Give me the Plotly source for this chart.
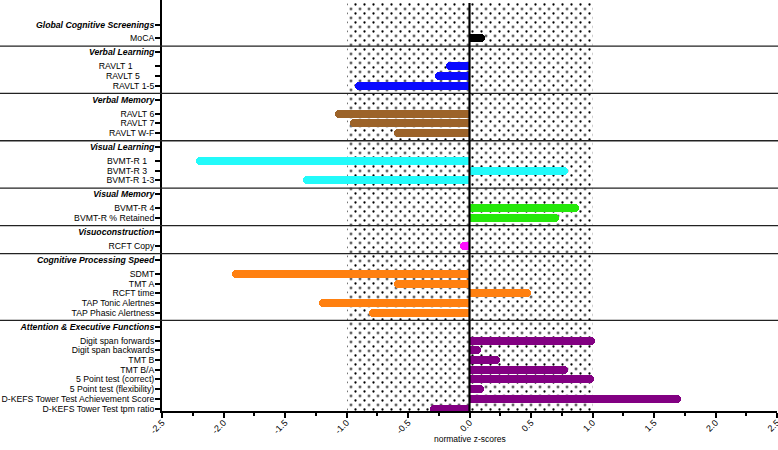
import plotly.graph_objects as go

# ---------------- data ----------------
groups = [
    "Global Cognitive Screenings",
    "Verbal Learning",
    "Verbal Memory",
    "Visual Learning",
    "Visual Memory",
    "Visuoconstruction",
    "Cognitive Processing Speed",
    "Attention & Executive Functions",
]
tests = [
    ["MoCA"],
    ["RAVLT 1", "RAVLT 5", "RAVLT 1-5"],
    ["RAVLT 6", "RAVLT 7", "RAVLT W-F"],
    ["BVMT-R 1", "BVMT-R 3", "BVMT-R 1-3"],
    ["BVMT-R 4", "BVMT-R % Retained"],
    ["RCFT Copy"],
    ["SDMT", "TMT A", "RCFT time", "TAP Tonic Alertnes", "TAP Phasic Alertness"],
    ["Digit span forwards", "Digit span backwards", "TMT B", "TMT B/A",
     "5 Point test (correct)", "5 Point test (flexibility)",
     "D-KEFS Tower Test Achievement Score", "D-KEFS Tower Test tpm ratio"],
]
scores = [
    [0.13],
    [-0.19, -0.28, -0.935],
    [-1.09, -0.97, -0.61],
    [-2.22, 0.80, -1.35],
    [0.89, 0.73],
    [-0.08],
    [-1.93, -0.61, 0.50, -1.22, -0.82],
    [1.02, 0.09, 0.25, 0.80, 1.01, 0.12, 1.72, -0.32],
]
group_colors = ["#000000", "#0a0aff", "#9c6329", "#22fafa", "#25e80a",
                "#ff10ff", "#ff8010", "#820082"]
# extra padding after some labels (as in the original figure)
label_pad = {"RAVLT 1": 9, "RAVLT 5": 6, "BVMT-R 1": 3, "BVMT-R 3": 3}
x_ticks = [-2.5, -2.0, -1.5, -1.0, -0.5, 0.0, 0.5, 1.0, 1.5, 2.0, 2.5]
x_title = "normative z-scores"
norm_band = [-1.0, 1.0]

# ---------------- layout helpers ----------------
W, H = 778, 450
ML, MR, MT, MB = 162, 1, 0, 39
PW = W - ML - MR
PH = H - MT - MB          # y axis in pixel-like units
XMIN, XMAX = -2.5, 2.5
PXU = PW / (XMAX - XMIN)
ROW = 9.71
GAP = 13.95
FONT = "Liberation Sans, Arial, Helvetica, sans-serif"
FS = 8.7
DOT = 9.0                 # pattern tile size
HALF = DOT / 2

tickvals, ticktext, seps = [], [], []
bars = []  # (group index, y position, value, name)
pos = 24.5
prev = None
for gi, g in enumerate(groups):
    if prev is not None:
        header = prev + GAP
        seps.append((prev + header) / 2 + 0.7)
    else:
        header = pos
    tickvals.append(header)
    ticktext.append("<b><i>" + g + "</i></b>")
    p = header
    for ti, t in enumerate(tests[gi]):
        p = p + (GAP if ti == 0 else ROW)
        tickvals.append(p)
        ticktext.append(t + "\u00a0" * label_pad.get(t, 0))
        bars.append((gi, p, scores[gi][ti], t))
    prev = p

fig = go.Figure()

# dotted normative band: two square-dot patterns offset by half a tile -> staggered dots
band_common = dict(orientation="h", base=[norm_band[0]],
                   x=[norm_band[1] - norm_band[0]], y=[PH / 2], width=PH,
                   hoverinfo="skip", showlegend=False)
fig.add_trace(go.Bar(
    **band_common, xaxis="x", yaxis="y",
    marker=dict(color="white", line=dict(width=0),
                pattern=dict(shape=".", size=DOT, solidity=0.05,
                             fgcolor="black", bgcolor="white", fillmode="replace")),
))
fig.add_trace(go.Bar(
    **band_common, xaxis="x2", yaxis="y2",
    marker=dict(color="rgba(0,0,0,0)", line=dict(width=0),
                pattern=dict(shape=".", size=DOT, solidity=0.05,
                             fgcolor="black", bgcolor="rgba(0,0,0,0)",
                             fillmode="replace")),
))

for gi, g in enumerate(groups):
    ys = [b[1] for b in bars if b[0] == gi]
    xs = [b[2] for b in bars if b[0] == gi]
    fig.add_trace(go.Bar(
        x=xs, y=ys, orientation="h", width=8, xaxis="x3", yaxis="y3",
        marker=dict(color=group_colors[gi], line=dict(width=0), cornerradius=4),
        showlegend=False, name=g,
    ))

shapes = []
for s in seps:
    shapes.append(dict(type="line", xref="paper", yref="y",
                       x0=-ML / PW, x1=1.01, y0=s, y1=s,
                       line=dict(color="#222222", width=1.3), layer="above"))
shapes.append(dict(type="line", xref="x", yref="y", x0=0, x1=0, y0=3, y1=PH,
                   line=dict(color="black", width=2.2), layer="above"))

hidden = dict(visible=False, showgrid=False, zeroline=False, fixedrange=True)

fig.update_layout(
    width=W, height=H,
    margin=dict(l=ML, r=MR, t=MT, b=MB),
    paper_bgcolor="white", plot_bgcolor="rgba(0,0,0,0)",
    font=dict(family=FONT, size=FS, color="black"),
    bargap=0, barmode="overlay",
    shapes=shapes,
    annotations=[dict(text=x_title, xref="paper", yref="paper",
                      x=0.5, y=-(439 - PH) / PH, xanchor="center",
                      yanchor="middle", showarrow=False,
                      font=dict(size=8.5, family=FONT, color="black"))],
    xaxis=dict(
        domain=[0, 1],
        range=[XMIN, XMAX], autorange=False,
        tickmode="array", tickvals=x_ticks,
        ticktext=["%.1f" % v for v in x_ticks],
        tickangle=-45, ticks="outside", ticklen=5, tickwidth=2,
        tickcolor="black", ticklabeloverflow="allow",
        ticklabelstandoff=-4,
        minor=dict(tickmode="linear", tick0=-2.5, dtick=0.25,
                   ticks="outside", ticklen=3, tickwidth=2, tickcolor="black"),
        showline=True, linecolor="black", linewidth=2,
        showgrid=False, zeroline=False,
        tickfont=dict(size=9, family=FONT, color="black"),
        automargin=False,
    ),
    yaxis=dict(
        domain=[0, 1],
        range=[PH, 0], autorange=False,
        tickmode="array", tickvals=tickvals, ticktext=ticktext,
        ticks="outside", ticklen=5, tickwidth=1.6, tickcolor="black",
        ticklabelstandoff=-1, ticklabeloverflow="allow",
        showline=True, linecolor="black", linewidth=2,
        showgrid=False, zeroline=False,
        tickfont=dict(size=FS, family=FONT, color="black"),
        automargin=False,
    ),
    # offset axes for the second half of the staggered dot pattern
    xaxis2=dict(hidden, domain=[HALF / PW, 1], anchor="y2",
                range=[XMIN + HALF / PXU, XMAX], autorange=False),
    yaxis2=dict(hidden, domain=[0, 1 - HALF / PH], anchor="x2",
                range=[PH, HALF], autorange=False),
    # data axes, identical to the main ones, drawn on top of the band
    xaxis3=dict(hidden, domain=[0, 1], anchor="y3",
                range=[XMIN, XMAX], autorange=False),
    yaxis3=dict(hidden, domain=[0, 1], anchor="x3",
                range=[PH, 0], autorange=False),
)

fig.write_html("out.html", config={"displayModeBar": False},
               post_script="document.body.style.margin='0';"
                           "document.body.style.overflow='hidden';")
